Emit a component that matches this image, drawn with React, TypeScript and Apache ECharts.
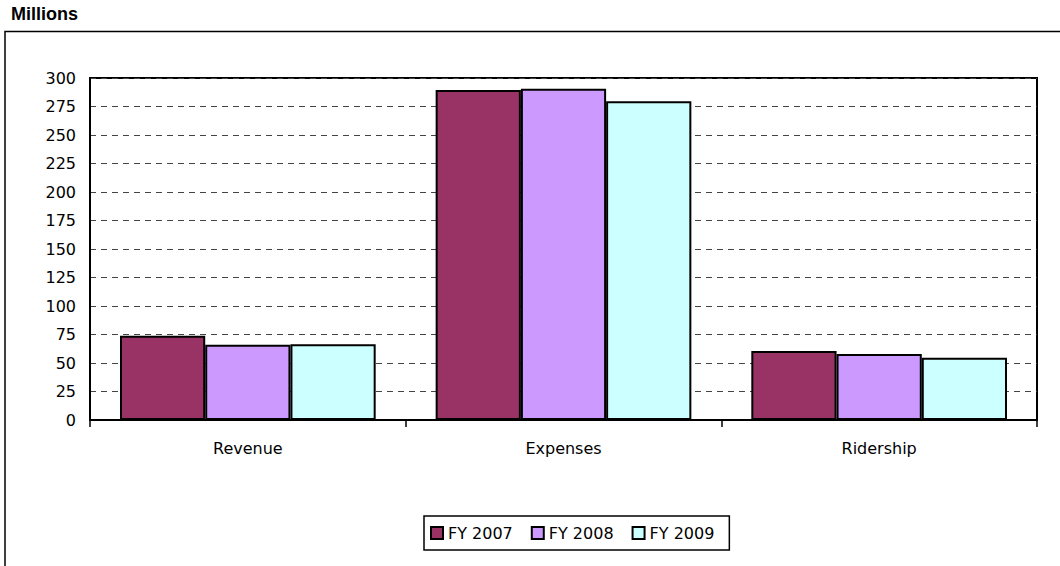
import React, { useEffect, useRef } from "react";
import * as echarts from "echarts";

const categories = ["Revenue", "Expenses", "Ridership"];
const seriesNames = ["FY 2007", "FY 2008", "FY 2009"];
const fy2007 = [74, 289.5, 60.5];
const fy2008 = [66, 290.5, 58];
const fy2009 = [66.5, 279.5, 54.5];
const seriesColors = ["#993366", "#CC99FF", "#CCFFFF"];
const yTicks = { min: 0, max: 300, interval: 25 };

export default function App() {
  const ref = useRef<HTMLDivElement>(null);
  useEffect(() => {
    if (!ref.current) return;
    const chart = echarts.init(ref.current, null, { renderer: "svg" });
    const values = [fy2007, fy2008, fy2009];
    const font = "'DejaVu Sans', Verdana, sans-serif";
    chart.setOption({
      animation: false,
      backgroundColor: "#ffffff",
      title: {
        text: "Millions",
        left: 11,
        top: 5,
        padding: 0,
        textStyle: { fontFamily: "'Liberation Sans', Arial, sans-serif", fontWeight: "bold", fontSize: 18, color: "#000" },
      },
      graphic: [
        {
          type: "rect",
          shape: { x: 5, y: 31.5, width: 1200, height: 700 },
          style: { fill: "none", stroke: "#000", lineWidth: 1.5 },
          silent: true,
          z: -1,
        },
      ],
      legend: {
        data: seriesNames,
        left: 424,
        top: 516,
        orient: "horizontal",
        itemWidth: 12,
        itemHeight: 12,
        itemGap: 18,
        padding: [9, 15, 9, 6],
        borderColor: "#000",
        borderWidth: 1.5,
        icon: "rect",
        textStyle: { fontFamily: font, fontSize: 16, color: "#000" },
      },
      grid: {
        left: 90,
        top: 78,
        right: 23,
        bottom: 146,
        show: true,
        borderColor: "#000",
        borderWidth: 2,
        containLabel: false,
      },
      xAxis: {
        type: "category",
        data: categories,
        axisLine: { show: true, lineStyle: { color: "#000", width: 2 } },
        axisTick: { show: true, alignWithLabel: false, length: 7, lineStyle: { color: "#000", width: 1.5 } },
        axisLabel: { margin: 20, fontFamily: font, fontSize: 16, color: "#000" },
        splitLine: { show: false },
      },
      yAxis: {
        type: "value",
        min: yTicks.min,
        max: yTicks.max,
        interval: yTicks.interval,
        axisLine: { show: true, lineStyle: { color: "#000", width: 2 } },
        axisTick: { show: false },
        axisLabel: { margin: 14, fontFamily: font, fontSize: 16, color: "#000" },
        splitLine: { show: true, lineStyle: { color: "#444", width: 1, type: [6, 5] } },
      },
      series: seriesNames.map((name, i) => ({
        name,
        type: "bar",
        data: values[i],
        barGap: "0%",
        barCategoryGap: "19%",
        itemStyle: { color: seriesColors[i], borderColor: "#000", borderWidth: 2 },
      })),
    });
    return () => chart.dispose();
  }, []);
  return (
    <div
      ref={ref}
      style={{ position: "absolute", left: 0, top: 0, width: 1060, height: 566 }}
    />
  );
}
